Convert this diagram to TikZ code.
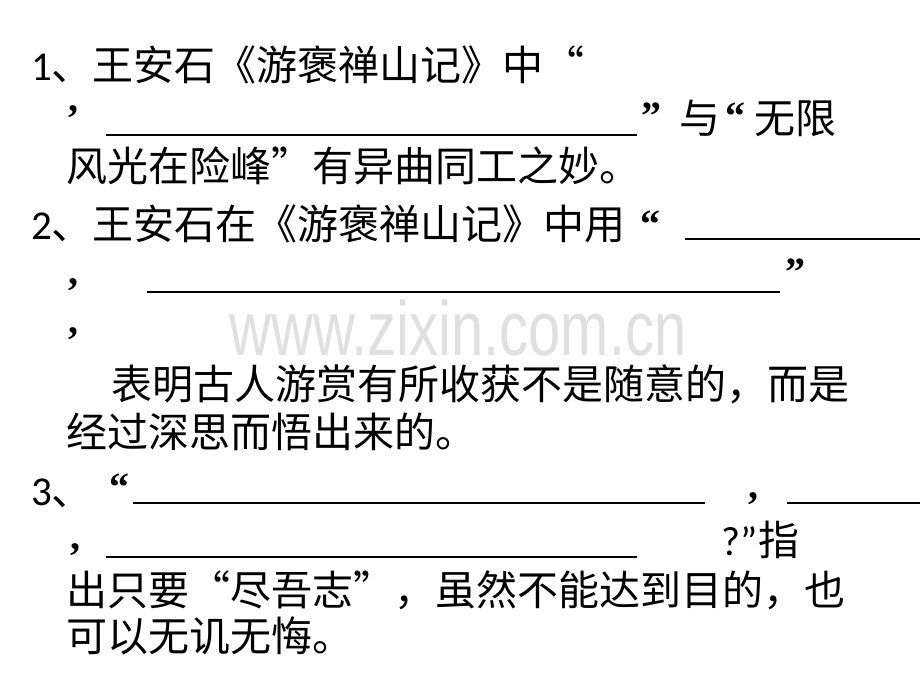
\documentclass[tikz,border=0pt]{standalone}
\usepackage{fontspec}
\setmainfont{Noto Sans CJK SC}
\newfontfamily\lat{Carlito}
\newfontfamily\ser{Liberation Serif}
\newfontfamily\wm{Liberation Sans}
\definecolor{wmgray}{HTML}{E0E0E0}
\tikzset{
  txt/.style={anchor=base west, inner sep=0pt, font=\fontsize{41}{41}\selectfont},
  pun/.style={anchor=base west, inner sep=0pt, text height=3pt, text depth=7pt, font=\ser\bfseries\fontsize{40}{40}\selectfont},
  qun/.style={anchor=base west, inner sep=0pt, text height=27pt, text depth=-17pt, font=\ser\bfseries\fontsize{40}{40}\selectfont},
  blank/.style={line width=2.7pt, black},
}
\begin{document}
\begin{tikzpicture}[x=1pt,y=-1pt]
\useasboundingbox[fill=white] (0,0) rectangle (920,690);
% watermark
\node[anchor=base, inner sep=0pt, text depth=0pt, text=wmgray, font=\wm\fontsize{77}{77}\selectfont] (wm) at (458,355) {\scalebox{0.752}[1]{www.zixin.com.cn}};
% item 1
\node[txt] (l1) at (31,81) {{\lat 1}、王安石《游褒禅山记》中“};
\node[pun] (c1) at (68,112) {,};
\coordinate (u1a) at (106,135); \coordinate (u1b) at (637,135);
\draw[blank] (u1a) -- (u1b);
\node[qun] (q1) at (641,129) {”};
\node[txt] (yu) at (679,133) {与};
\node[qun] (q2) at (725,129) {“};
\node[txt] (wx) at (754,133) {无限};
\node[txt] (l3) at (66,181) {风光在险峰”有异曲同工之妙。};
% item 2
\node[txt] (l4) at (31,239) {{\lat 2}、王安石在《游褒禅山记》中用};
\node[qun] (q3) at (640,237) {“};
\coordinate (u2a) at (685,239); \coordinate (u2b) at (920,239);
\draw[blank] (u2a) -- (u2b);
\node[pun] (c2) at (68,284) {,};
\coordinate (u3a) at (147,292); \coordinate (u3b) at (780,292);
\draw[blank] (u3a) -- (u3b);
\node[qun] (q4) at (785,285) {”};
\node[pun] (c3) at (68,333) {,};
\node[txt] (l7) at (111,399) {表明古人游赏有所收获不是随意的，而是};
\node[txt] (l8) at (66,447) {经过深思而悟出来的。};
% item 3
\node[txt] (l9) at (31,505) {{\lat 3}、};
\node[qun] (q5) at (109,500) {“};
\coordinate (u4a) at (133,503); \coordinate (u4b) at (705,503);
\draw[blank] (u4a) -- (u4b);
\node[pun] (c4) at (748,498) {,};
\coordinate (u5a) at (787,503); \coordinate (u5b) at (920,503);
\draw[blank] (u5a) -- (u5b);
\node[pun] (c5) at (70,549) {,};
\coordinate (u6a) at (106,557); \coordinate (u6b) at (637,557);
\draw[blank] (u6a) -- (u6b);
\node[txt] (zhi) at (721,555) {{\lat ?”}指};
\node[txt] (l11) at (66,605) {出只要“尽吾志”，虽然不能达到目的，也};
\node[txt] (l12) at (66,651) {可以无讥无悔。};
\end{tikzpicture}
\end{document}
